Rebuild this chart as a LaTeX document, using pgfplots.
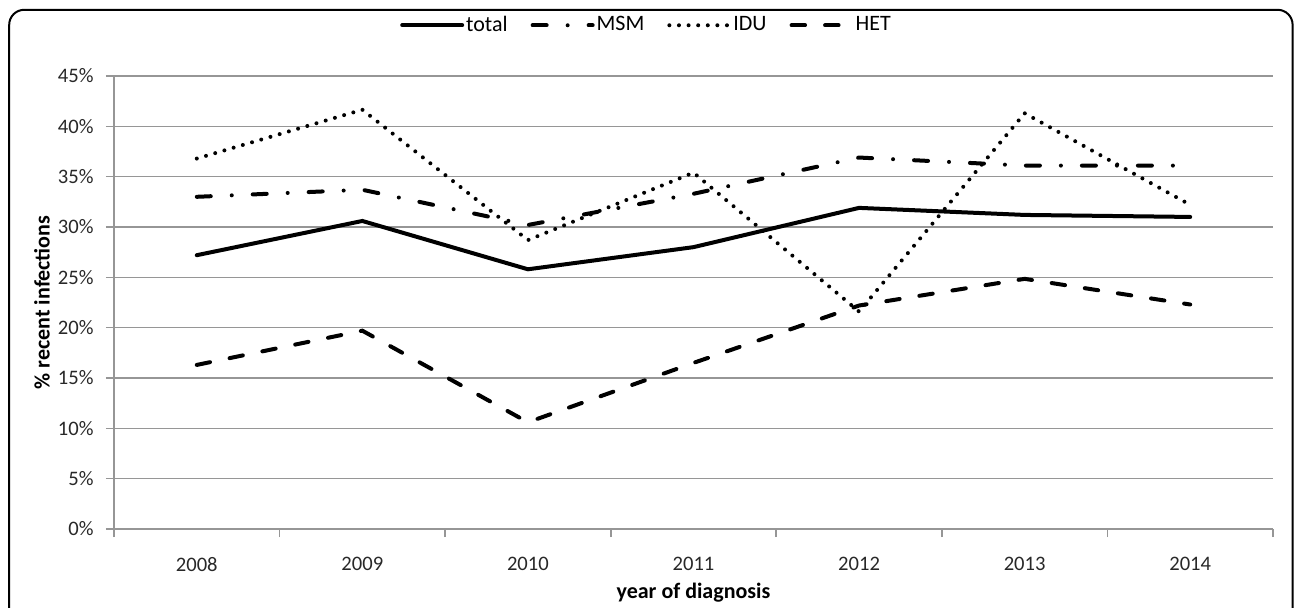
\documentclass[border=0pt]{standalone}
\usepackage{pgfplots}
\pgfplotsset{compat=1.18}
\usepackage{fontspec}
\setmainfont{Carlito}
\definecolor{gridgray}{RGB}{150,150,150}
\definecolor{ticktext}{RGB}{40,40,40}
\begin{document}
\begin{tikzpicture}[x=1pt,y=1pt]
\useasboundingbox (0,0) rectangle (647.5,303.5);
\draw[line width=1pt, rounded corners=7.5pt] (4.6,-20) -- (4.6,298.6) -- (646.3,298.6) -- (646.3,-20);
\begin{axis}[
  at={(57pt,39pt)}, anchor=south west,
  scale only axis,
  width=579.5pt, height=226.5pt,
  xmin=-0.5, xmax=6.5, ymin=0, ymax=45,
  axis x line*=bottom, axis y line*=left,
  axis line style={gridgray, line width=0.8pt, -},
  xtick={-0.5,0.5,...,6.5},
  xticklabels={2008,2009,2010,2011,2012,2013,2014,{}},
  xticklabel style={xshift=41.39pt, anchor=north, inner sep=0pt, yshift=-10pt, font=\fontsize{10.3}{12}\selectfont, text=ticktext},
  ytick={0,5,...,45},
  yticklabels={0\%,5\%,10\%,15\%,20\%,25\%,30\%,35\%,40\%,45\%},
  yticklabel style={anchor=east, inner sep=0pt, xshift=-6pt, font=\fontsize{10.3}{12}\selectfont, text=ticktext},
  tick align=outside,
  major tick length=4pt,
  tick style={gridgray, line width=0.8pt},
  ymajorgrids,
  major grid style={gridgray, line width=0.8pt},
  xlabel={\textbf{year of diagnosis}},
  ylabel={\textbf{\% recent infections}},
  label style={font=\fontsize{11}{13}\selectfont},
  xlabel style={at={(axis description cs:0.5,0)}, anchor=center, yshift=-32pt},
  ylabel style={at={(axis description cs:0,0.5)}, anchor=center, rotate=0, yshift=36pt},
  legend columns=4,
  legend style={at={(axis description cs:0.459,1.112)}, anchor=center, draw=none, fill=none,
    font=\fontsize{11}{13}\selectfont, inner sep=0pt, nodes={inner sep=0.5pt},
    /tikz/every odd column/.append style={column sep=0.5pt},
    /tikz/every even column/.append style={column sep=11pt}},
  legend image code/.code={\draw[#1] (0pt,0pt) -- (30pt,0pt);},
  clip=false,
]
\addplot[black, line width=2pt, solid, line cap=round] coordinates {(0,27.2) (1,30.6) (2,25.8) (3,28.0) (4,31.9) (5,31.2) (6,31.0)};
\addlegendentry{total}
\addplot[black, line width=2pt, line cap=round, dash pattern=on 7pt off 10.5pt on 0pt off 10.5pt] coordinates {(0,33.0) (1,33.7) (2,30.2) (3,33.3) (4,36.9) (5,36.1) (6,36.1)};
\addlegendentry{MSM}
\addplot[black, line width=2pt, line cap=round, dash pattern=on 0pt off 4.8pt] coordinates {(0,36.8) (1,41.65) (2,28.7) (3,35.4) (4,21.6) (5,41.3) (6,32.2)};
\addlegendentry{IDU}
\addplot[black, line width=2pt, line cap=round, dash pattern=on 6.75pt off 10pt] coordinates {(0,16.3) (1,19.7) (2,10.6) (3,16.5) (4,22.2) (5,24.85) (6,22.3)};
\addlegendentry{HET}
\end{axis}
\end{tikzpicture}
\end{document}
